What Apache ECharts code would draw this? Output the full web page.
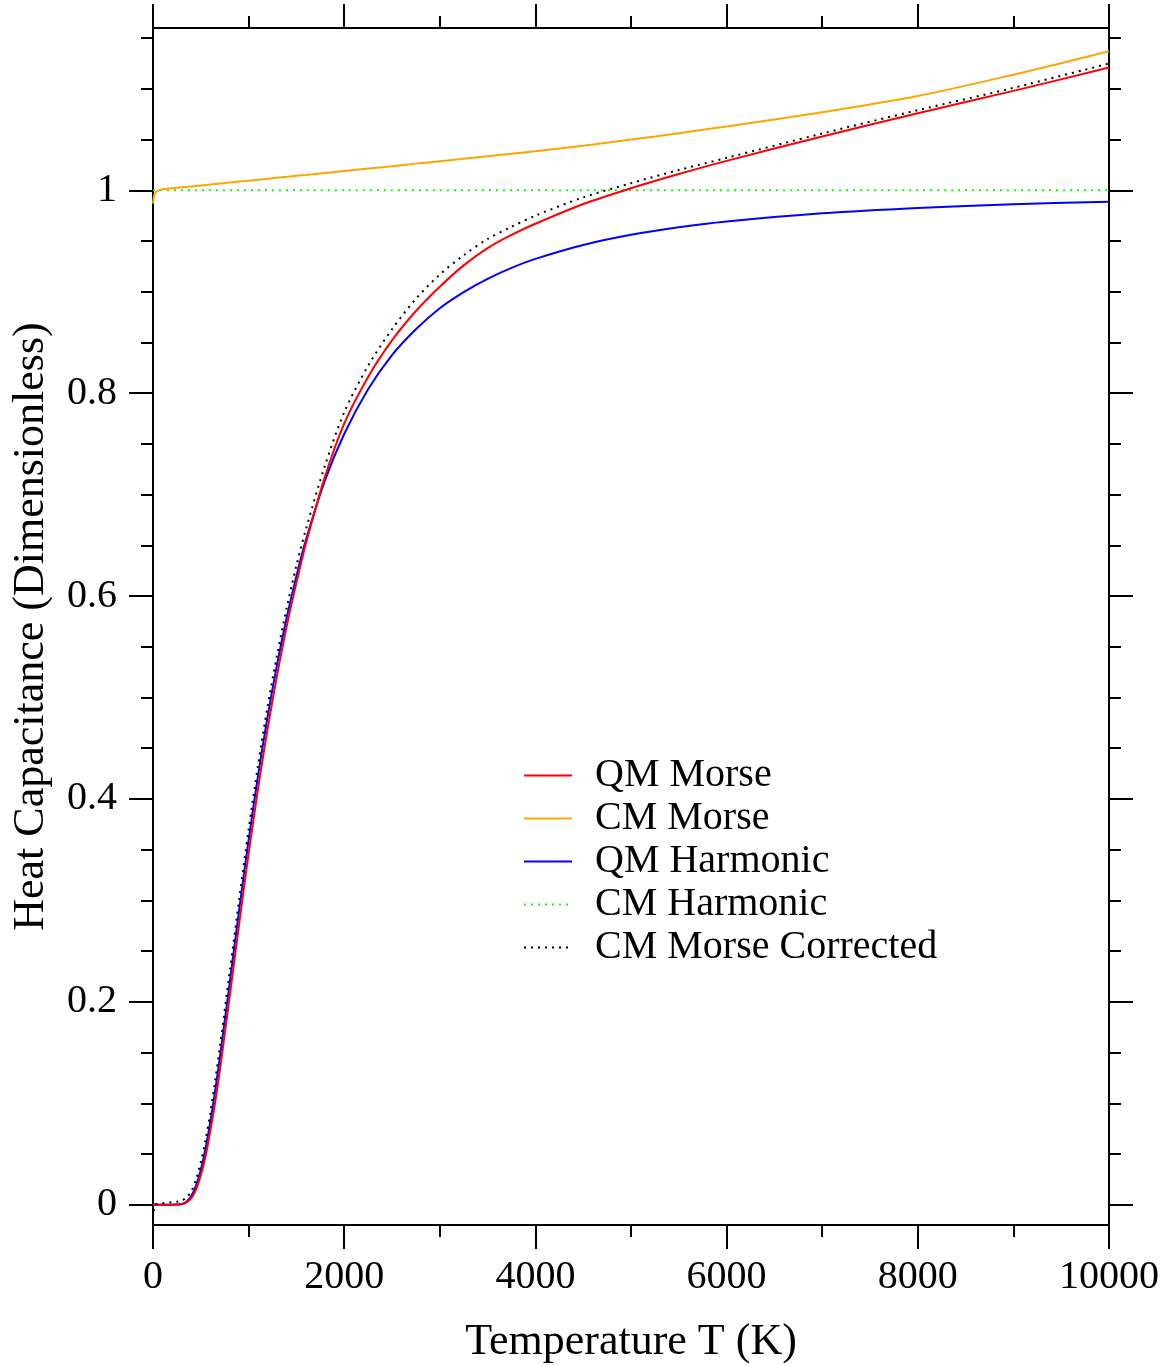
<!DOCTYPE html>
<html>
<head>
<meta charset="utf-8">
<script src="https://cdn.jsdelivr.net/npm/echarts@6/dist/echarts.min.js"></script>
<style>
  html, body { margin: 0; padding: 0; background: #fff; }
  #chart { width: 1173px; height: 1366px; }
</style>
</head>
<body>
<div id="chart"></div>
<script>
// temperatures (K) shared by the curves
const temps = [0, 10, 20, 50, 100, 200, 250, 300, 350, 400, 450, 500, 550, 600, 650, 700, 800, 900,
  1000, 1100, 1200, 1300, 1400, 1500, 1600, 1800, 2000, 2250, 2500, 2750, 3000, 3250, 3500, 3750, 4000,
  4500, 5000, 5500, 6000, 7000, 8000, 9000, 10000]

const qmMorse = [0, 0, 0, 0, 0, 0, 0.0001, 0.0004, 0.0022, 0.0065, 0.015, 0.029, 0.048, 0.073, 0.101, 0.133, 0.204, 0.276,
  0.346, 0.411, 0.470, 0.523, 0.571, 0.613, 0.652, 0.718, 0.770, 0.816, 0.852, 0.881, 0.905, 0.926, 0.943, 0.956, 0.967,
  0.9865, 1.002, 1.016, 1.029, 1.053, 1.076, 1.098, 1.121]

const cmMorse = [0.987, 0.994, 0.997, 0.9995, 1.001, 1.002, 1.0024, 1.0029, 1.0033, 1.0038, 1.0043, 1.0048, 1.0052, 1.0057, 1.0062, 1.0067, 1.0076, 1.0086,
  1.0095, 1.0105, 1.0114, 1.0124, 1.0133, 1.0143, 1.0152, 1.0171, 1.019, 1.0214, 1.0238, 1.0263, 1.0287, 1.0311, 1.0335, 1.036, 1.0385,
  1.044, 1.050, 1.0563, 1.063, 1.077, 1.093, 1.114, 1.137]

const qmHarmonic = [0, 0, 0, 0, 0, 0, 0.0001, 0.0007, 0.003, 0.0086, 0.0188, 0.0345, 0.0557, 0.082, 0.1123, 0.1455, 0.217, 0.2897,
  0.3595, 0.4237, 0.4818, 0.5337, 0.5793, 0.6196, 0.6555, 0.7143, 0.7598, 0.8038, 0.8376, 0.8631, 0.8838, 0.8997, 0.9127, 0.9235, 0.9324,
  0.9461, 0.9561, 0.9635, 0.9692, 0.9773, 0.9826, 0.9862, 0.9888]

const cmMorseCorrected = [-0.013, -0.004, 0, 0.0008, 0.0015, 0.0025, 0.003, 0.004, 0.007, 0.013, 0.025, 0.042, 0.064, 0.091, 0.122, 0.156, 0.228, 0.300,
  0.370, 0.434, 0.492, 0.543, 0.589, 0.630, 0.666, 0.729, 0.781, 0.827, 0.863, 0.893, 0.917, 0.936, 0.952, 0.964, 0.975,
  0.993, 1.007, 1.020, 1.032, 1.056, 1.079, 1.101, 1.125]

// classical harmonic is flat
const flatTemps = [0, 10000]
const cmHarmonic = [1, 1]

const yMajorTicks = [0, 0.2, 0.4, 0.6, 0.8, 1]
const yMinorTicks = [0.05, 0.1, 0.15, 0.25, 0.3, 0.35, 0.45, 0.5, 0.55, 0.65, 0.7, 0.75, 0.85, 0.9, 0.95, 1.05, 1.1, 1.15]

const FONT = 'Liberation Serif, Times New Roman, serif'

const chart = echarts.init(document.getElementById('chart'))

function toPairs(xs, ys) {
  return xs.map((x, i) => [x, ys[i]])
}

const lineBase = { color: '#000', width: 2 }

function xAxisDef(pos, showLabels) {
  return {
    type: 'value',
    position: pos,
    min: 0,
    max: 10000,
    interval: 2000,
    axisLine: { show: true, onZero: false, lineStyle: lineBase },
    axisTick: { show: true, inside: false, length: 24, lineStyle: lineBase },
    minorTick: { show: true, splitNumber: 2, length: 12, lineStyle: lineBase },
    splitLine: { show: false },
    axisLabel: {
      show: showLabels,
      margin: 32,
      color: '#000',
      fontFamily: FONT,
      fontSize: 40,
      formatter: v => String(v)
    },
    name: showLabels ? 'Temperature T (K)' : '',
    nameLocation: 'middle',
    nameGap: 95,
    nameTextStyle: { color: '#000', fontFamily: FONT, fontSize: 44 }
  }
}

function yAxisDef(pos, ticks, len, showLabels) {
  return {
    type: 'value',
    position: pos,
    min: -0.02,
    max: 1.16,
    axisLine: { show: true, onZero: false, lineStyle: lineBase },
    axisTick: { show: true, inside: false, length: len, customValues: ticks, lineStyle: lineBase },
    splitLine: { show: false },
    axisLabel: {
      show: showLabels,
      customValues: yMajorTicks,
      margin: 36,
      color: '#000',
      fontFamily: FONT,
      fontSize: 40,
      formatter: v => String(v)
    },
    name: showLabels ? 'Heat Capacitance (Dimensionless)' : '',
    nameLocation: 'middle',
    nameGap: 100,
    nameTextStyle: { color: '#000', fontFamily: FONT, fontSize: 44 }
  }
}

function curve(name, xs, ys, color, dotted) {
  return {
    name: name,
    type: 'line',
    data: toPairs(xs, ys),
    symbol: 'none',
    smooth: 0.3,
    lineStyle: { color: color, width: 2, type: dotted ? [2, 5] : 'solid' },
    itemStyle: { color: color }
  }
}

const option = {
  animation: false,
  backgroundColor: '#fff',
  grid: { left: 153, right: 64, top: 28, bottom: 141, containLabel: false, outerBoundsMode: 'none' },
  xAxis: [xAxisDef('bottom', true), xAxisDef('top', false)],
  yAxis: [
    yAxisDef('left', yMajorTicks, 24, true),
    yAxisDef('left', yMinorTicks, 12, false),
    yAxisDef('right', yMajorTicks, 24, false),
    yAxisDef('right', yMinorTicks, 12, false)
  ],
  legend: {
    orient: 'vertical',
    left: 523,
    top: 754,
    padding: 0,
    itemGap: 0,
    itemWidth: 48,
    itemHeight: 20,
    itemStyle: { color: 'rgba(0,0,0,0)', borderWidth: 0, opacity: 0 },
    data: ['QM Morse', 'CM Morse', 'QM Harmonic', 'CM Harmonic', 'CM Morse Corrected'],
    textStyle: {
      color: '#000',
      fontFamily: FONT,
      fontSize: 40,
      lineHeight: 43,
      padding: [0, 0, 0, 18]
    }
  },
  series: [
    curve('CM Harmonic', flatTemps, cmHarmonic, '#00ff00', true),
    curve('QM Harmonic', temps, qmHarmonic, '#0000ff', false),
    curve('QM Morse', temps, qmMorse, '#ff0000', false),
    curve('CM Morse', temps, cmMorse, '#ffa500', false),
    curve('CM Morse Corrected', temps, cmMorseCorrected, '#000000', true)
  ]
}

chart.setOption(option)
</script>
</body>
</html>
